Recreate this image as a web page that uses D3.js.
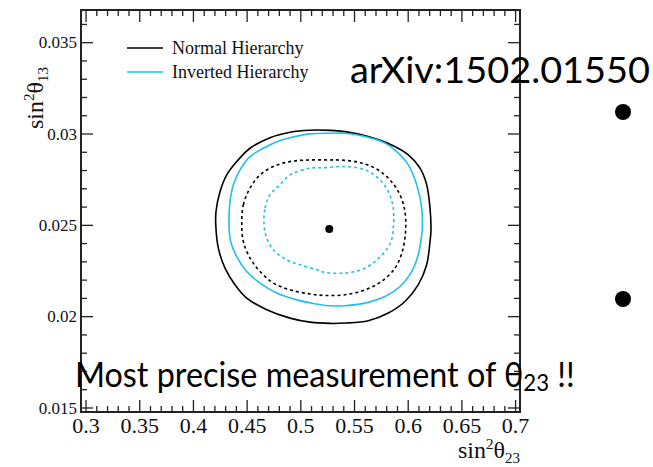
<!DOCTYPE html>
<html>
<head>
<meta charset="utf-8">
<script src="https://cdn.jsdelivr.net/npm/d3@7"></script>
<style>
  body { margin: 0; background: #fff; }
  svg { display: block; }
  .serif { font-family: "Liberation Serif", "Times New Roman", serif; fill: #111; }
  .slide { font-family: Lato, "Open Sans", sans-serif; fill: #000; }
</style>
</head>
<body>
<div id="chart"></div>
<script>
// contours: [sin2theta23, sin2theta13]
const nhSolid = [
    [0.4208, 0.02503], [0.4210, 0.02575], [0.4248, 0.02685], [0.4310, 0.02776], [0.4403, 0.02849],
    [0.4527, 0.02922], [0.4713, 0.02980], [0.4899, 0.03010], [0.5086, 0.03021], [0.5272, 0.03020],
    [0.5412, 0.03013], [0.5628, 0.02986], [0.5846, 0.02940], [0.6001, 0.02886], [0.6110, 0.02813],
    [0.6172, 0.02722], [0.6203, 0.02594], [0.6212, 0.02475], [0.6203, 0.02411], [0.6172, 0.02284],
    [0.6094, 0.02175], [0.5970, 0.02083], [0.5815, 0.02020], [0.5628, 0.01978], [0.5412, 0.01965],
    [0.5272, 0.01963], [0.5086, 0.01970], [0.4899, 0.01992], [0.4683, 0.02038], [0.4496, 0.02102],
    [0.4387, 0.02175], [0.4294, 0.02266], [0.4232, 0.02375]
];
const ihSolid = [
    [0.4331, 0.02503], [0.4341, 0.02630], [0.4372, 0.02722], [0.4434, 0.02804], [0.4527, 0.02876],
    [0.4651, 0.02922], [0.4776, 0.02958], [0.4899, 0.02980], [0.5086, 0.03001], [0.5272, 0.03004],
    [0.5412, 0.03004], [0.5598, 0.02986], [0.5784, 0.02950], [0.5893, 0.02904], [0.6001, 0.02831],
    [0.6079, 0.02722], [0.6126, 0.02594], [0.6131, 0.02475], [0.6126, 0.02448], [0.6094, 0.02339],
    [0.6033, 0.02247], [0.5924, 0.02165], [0.5784, 0.02110], [0.5598, 0.02074], [0.5412, 0.02060],
    [0.5225, 0.02061], [0.5148, 0.02069], [0.4962, 0.02092], [0.4776, 0.02129], [0.4620, 0.02184],
    [0.4496, 0.02247], [0.4403, 0.02329], [0.4347, 0.02411]
];
const nhDashed = [
    [0.4450, 0.02503], [0.4465, 0.02612], [0.4527, 0.02704], [0.4620, 0.02776], [0.4744, 0.02822],
    [0.4899, 0.02849], [0.5086, 0.02858], [0.5272, 0.02858], [0.5349, 0.02858], [0.5535, 0.02846],
    [0.5691, 0.02813], [0.5815, 0.02758], [0.5908, 0.02685], [0.5964, 0.02594], [0.5977, 0.02485],
    [0.5945, 0.02357], [0.5877, 0.02266], [0.5753, 0.02193], [0.5598, 0.02147], [0.5412, 0.02120],
    [0.5225, 0.02116], [0.5086, 0.02124], [0.4899, 0.02147], [0.4744, 0.02184], [0.4620, 0.02247],
    [0.4527, 0.02321], [0.4465, 0.02411]
];
const ihDashed = [
    [0.4657, 0.02503], [0.4667, 0.02594], [0.4713, 0.02667], [0.4806, 0.02722], [0.4899, 0.02776],
    [0.5086, 0.02813], [0.5225, 0.02816], [0.5412, 0.02822], [0.5598, 0.02804], [0.5722, 0.02758],
    [0.5815, 0.02685], [0.5861, 0.02594], [0.5861, 0.02485], [0.5840, 0.02411], [0.5784, 0.02357],
    [0.5691, 0.02302], [0.5567, 0.02257], [0.5412, 0.02239], [0.5225, 0.02242], [0.5148, 0.02257],
    [0.4993, 0.02284], [0.4869, 0.02311], [0.4744, 0.02366], [0.4683, 0.02430]
];
const bestFit = [0.5265, 0.0248];

const xTicks = [0.3, 0.35, 0.4, 0.45, 0.5, 0.55, 0.6, 0.65, 0.7];
const xTickLabels = ["0.3", "0.35", "0.4", "0.45", "0.5", "0.55", "0.6", "0.65", "0.7"];
const yTicks = [0.015, 0.02, 0.025, 0.03, 0.035];
const yTickLabels = ["0.015", "0.02", "0.025", "0.03", "0.035"];

const legendNames = ["Normal Hierarchy", "Inverted Hierarchy"];
const legendColors = ["#000000", "#1ec0f2"];

function drawChart() {
    //DIMENSIONS
    let dimensions = {
        width: 653,
        height: 467,
        margin: { top: 10, right: 133, bottom: 55, left: 81 },
    }
    dimensions.boundedWidth = dimensions.width - dimensions.margin.left - dimensions.margin.right;
    dimensions.boundedHeight = dimensions.height - dimensions.margin.top - dimensions.margin.bottom;
    const majorTick = 12;
    const minorTick = 6;

    //SCALES
    const xScale = d3.scaleLinear()
        .domain([0.2953, 0.7041])
        .range([0, dimensions.boundedWidth]);
    const yScale = d3.scaleLinear()
        .domain([0.01478, 0.03679])
        .range([dimensions.boundedHeight, 0]);

    //WRAPPER
    const wrapper = d3.select("#chart").append("svg")
        .attr("width", dimensions.width)
        .attr("height", dimensions.height);

    const bounds = wrapper.append("g")
        .attr("transform", `translate(${dimensions.margin.left}, ${dimensions.margin.top})`);

    //TICKS, on all four sides like ROOT
    const xMinor = d3.range(30, 71).map(d => d / 100);
    const yMinor = d3.range(15, 37).map(d => d / 1000);
    const isMajorX = d => Math.abs(Math.round(d * 20) - d * 20) < 1e-6;
    const isMajorY = d => Math.abs(Math.round(d * 200) - d * 200) < 1e-6;

    const ticks = bounds.append("g")
        .attr("stroke", "#222")
        .attr("stroke-width", 1.3);

    ticks.selectAll(".xb").data(xMinor).join("line")
        .attr("x1", d => xScale(d)).attr("x2", d => xScale(d))
        .attr("y1", dimensions.boundedHeight)
        .attr("y2", d => dimensions.boundedHeight - (isMajorX(d) ? majorTick : minorTick));
    ticks.selectAll(".xt").data(xMinor).join("line")
        .attr("x1", d => xScale(d)).attr("x2", d => xScale(d))
        .attr("y1", 0)
        .attr("y2", d => isMajorX(d) ? majorTick : minorTick);
    ticks.selectAll(".yl").data(yMinor).join("line")
        .attr("y1", d => yScale(d)).attr("y2", d => yScale(d))
        .attr("x1", 0)
        .attr("x2", d => isMajorY(d) ? majorTick : minorTick);
    ticks.selectAll(".yr").data(yMinor).join("line")
        .attr("y1", d => yScale(d)).attr("y2", d => yScale(d))
        .attr("x1", dimensions.boundedWidth)
        .attr("x2", d => dimensions.boundedWidth - (isMajorY(d) ? majorTick : minorTick));

    //FRAME
    bounds.append("rect")
        .attr("width", dimensions.boundedWidth)
        .attr("height", dimensions.boundedHeight)
        .attr("fill", "none")
        .attr("stroke", "#222")
        .attr("stroke-width", 2);

    //TICK LABELS
    bounds.append("g").selectAll("text")
        .data(xTicks)
        .join("text")
        .attr("class", "serif")
        .attr("x", d => xScale(d))
        .attr("y", dimensions.boundedHeight + 21)
        .attr("text-anchor", "middle")
        .attr("font-size", "22px")
        .text((d, i) => xTickLabels[i]);

    bounds.append("g").selectAll("text")
        .data(yTicks)
        .join("text")
        .attr("class", "serif")
        .attr("x", -4)
        .attr("y", d => yScale(d))
        .attr("dy", "0.33em")
        .attr("text-anchor", "end")
        .attr("font-size", "17px")
        .text((d, i) => yTickLabels[i]);

    //AXIS TITLES
    const xTitle = bounds.append("text")
        .attr("class", "serif")
        .attr("x", dimensions.boundedWidth)
        .attr("y", dimensions.boundedHeight + 46)
        .attr("text-anchor", "end")
        .attr("font-size", "24px");
    xTitle.append("tspan").text("sin");
    xTitle.append("tspan").attr("font-size", "15px").attr("dy", -9).text("2");
    xTitle.append("tspan").attr("dy", 9).text("θ");
    xTitle.append("tspan").attr("font-size", "15px").attr("dy", 5).text("23");

    const yTitle = bounds.append("text")
        .attr("class", "serif")
        .attr("transform", `translate(${-38}, ${57}) rotate(-90)`)
        .attr("text-anchor", "end")
        .attr("font-size", "24px");
    yTitle.append("tspan").text("sin");
    yTitle.append("tspan").attr("font-size", "15px").attr("dy", -9).text("2");
    yTitle.append("tspan").attr("dy", 9).text("θ");
    yTitle.append("tspan").attr("font-size", "15px").attr("dy", 5).text("13");

    //CONTOURS
    const line = d3.line()
        .x(d => xScale(d[0]))
        .y(d => yScale(d[1]))
        .curve(d3.curveCatmullRomClosed);

    const contours = [
        { points: nhSolid, color: legendColors[0], dash: null },
        { points: ihSolid, color: legendColors[1], dash: null },
        { points: nhDashed, color: legendColors[0], dash: "3,3" },
        { points: ihDashed, color: legendColors[1], dash: "3,3" },
    ];
    bounds.append("g").selectAll("path")
        .data(contours)
        .join("path")
        .attr("d", d => line(d.points))
        .attr("fill", "none")
        .attr("stroke", d => d.color)
        .attr("stroke-width", 1.6)
        .attr("stroke-dasharray", d => d.dash);

    bounds.append("circle")
        .attr("cx", xScale(bestFit[0]))
        .attr("cy", yScale(bestFit[1]))
        .attr("r", 4)
        .attr("fill", "#000");

    //LEGEND
    const legend = bounds.append("g")
        .attr("transform", "translate(46, 38)");
    const legendItem = legend.selectAll("g")
        .data(legendNames)
        .join("g")
        .attr("transform", (d, i) => `translate(0, ${i * 24})`);
    legendItem.append("line")
        .attr("x1", 0).attr("x2", 36)
        .attr("stroke", (d, i) => legendColors[i])
        .attr("stroke-width", 1.6);
    legendItem.append("text")
        .attr("class", "serif")
        .attr("x", 45)
        .attr("y", 6)
        .attr("font-size", "18px")
        .text(d => d);

    //SLIDE OVERLAY
    wrapper.append("text")
        .attr("class", "slide")
        .attr("x", 350)
        .attr("y", 83)
        .attr("font-size", "37px")
        .attr("textLength", 300)
        .attr("lengthAdjust", "spacingAndGlyphs")
        .text("arXiv:1502.01550");

    // narrow the line to the slide's width (the slide font is narrower than Lato)
    const note = wrapper.append("text")
        .attr("class", "slide")
        .attr("font-size", "35px");
    note.append("tspan").text("Most precise measurement of ");
    note.append("tspan").text("θ");
    note.append("tspan").attr("font-size", "24px").attr("dy", 4).text("23");
    note.append("tspan").attr("dy", -4).text(" !!");
    const noteWidth = note.node().getBBox().width;
    note.attr("transform", `translate(75, 387) scale(${500 / noteWidth}, 1)`);

    wrapper.selectAll(".bullet")
        .data([112, 299])
        .join("circle")
        .attr("class", "bullet")
        .attr("cx", 623)
        .attr("cy", d => d)
        .attr("r", 8)
        .attr("fill", "#000");
}

drawChart();
</script>
</body>
</html>
